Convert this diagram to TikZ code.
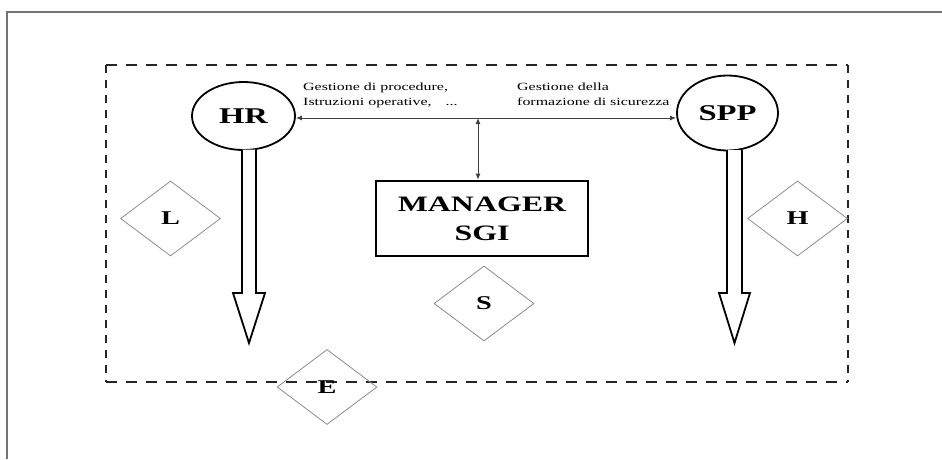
\documentclass[tikz,border=0pt]{standalone}
\usepackage{fontspec}
\setmainfont{Liberation Serif}[FakeStretch=1.45]
\usetikzlibrary{shapes.geometric,arrows.meta}
\begin{document}
\begin{tikzpicture}[x=1pt,y=-1pt,
  actor/.style={ellipse,draw,line width=1.8pt,inner sep=0pt,font=\fontsize{22.5}{26}\selectfont\bfseries},
  mgr/.style={rectangle,draw,line width=2.6pt,inner sep=0pt,align=center,font=\fontsize{22}{29}\selectfont\bfseries},
  risk/.style={diamond,draw=black!45,line width=0.8pt,inner sep=0pt,minimum width=100pt,minimum height=75pt,font=\fontsize{19.5}{22}\selectfont\bfseries},
  lbl/.style={anchor=north west,align=left,inner sep=0pt,font=\fontsize{11}{15}\selectfont},
  link/.style={draw=black!75,line width=1pt,{Latex[length=6pt,width=5pt]}-{Latex[length=6pt,width=5pt]}},
  hollow/.style={draw,line width=1.8pt,fill=white,line join=miter},
  frameln/.style={draw=black!55,line width=1.5pt},
  box/.style={draw=black!85,line width=2.4pt}]
\useasboundingbox (0,0) rectangle (942,459);
% outer frame (only top and left visible)
\draw[frameln] (7,459) -- (7,12) -- (942,12);
% dashed boundary
\draw[box,dash pattern=on 11pt off 9pt] (106,65) -- (848,65);
\draw[box,dash pattern=on 11pt off 9pt] (106,382) -- (848,382);
\draw[box,dash pattern=on 8pt off 7pt] (106,65) -- (106,382);
\draw[box,dash pattern=on 8pt off 7pt] (848,65) -- (848,382);
% actors
\node[actor,minimum width=103pt,minimum height=68pt] (HR) at (243.5,116) {HR};
\node[actor,minimum width=101pt,minimum height=75pt] (SPP) at (727.5,113) {SPP};
\node[mgr,minimum width=212pt,minimum height=75pt] (MGR) at (482,218.5) {MANAGER\\SGI};
% risk diamonds
\node[risk] (L) at (170.5,218.5) {L};
\node[risk] (H) at (797.5,218.5) {H};
\node[risk] (S) at (484,303.5) {S};
\node[risk] (E) at (327,387) {E};
% labels
\node[lbl] (t1) at (303,82.5) {Gestione di procedure,\\Istruzioni operative,\hspace{14pt}...};
\node[lbl] (t2) at (517,82.5) {Gestione della\\formazione di sicurezza};
% connectors
\coordinate (mid) at (478,118);
\draw[link] (HR.east |- mid) -- (SPP.west |- mid);
\draw[link] (mid) -- (mid |- MGR.north);
% hollow arrows
\coordinate (hrA) at (249,149.5);
\coordinate (spA) at (734.5,150);
\draw[hollow] ([xshift=-7pt]hrA) -- ([xshift=-7pt]hrA |- 0,293) -- ([xshift=-16pt]hrA |- 0,293) -- (hrA |- 0,343) -- ([xshift=16pt]hrA |- 0,293) -- ([xshift=7pt]hrA |- 0,293) -- ([xshift=7pt]hrA);
\draw[hollow] ([xshift=-7.5pt]spA) -- ([xshift=-7.5pt]spA |- 0,293) -- ([xshift=-15.5pt]spA |- 0,293) -- (spA |- 0,343) -- ([xshift=15.5pt]spA |- 0,293) -- ([xshift=7.5pt]spA |- 0,293) -- ([xshift=7.5pt]spA);
\end{tikzpicture}
\end{document}
